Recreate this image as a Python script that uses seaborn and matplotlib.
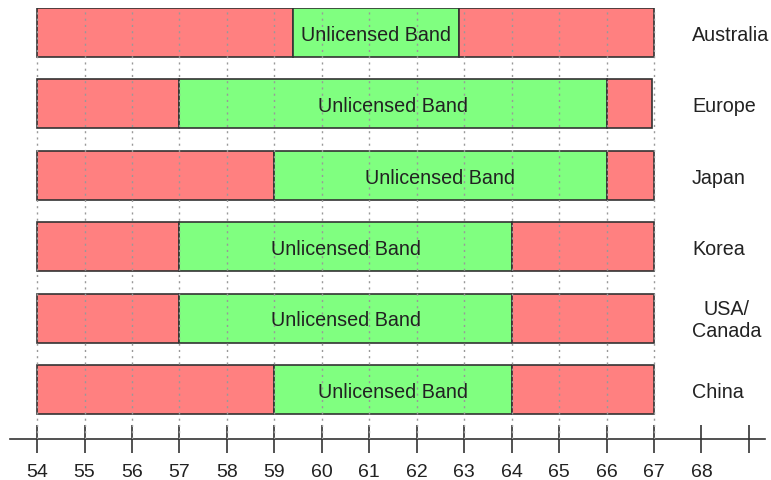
import matplotlib
matplotlib.use("Agg")
import matplotlib.pyplot as plt
import seaborn as sns

countries = ["Australia", "Europe", "Japan", "Korea", "USA/\nCanada", "China"]
range_start = [54, 54, 54, 54, 54, 54]
band_start = [59.4, 57, 59, 57, 57, 59]
band_end = [62.9, 66, 66, 64, 64, 64]
range_end = [67, 66.95, 67, 67, 67, 67]
band_label = "Unlicensed Band"
tick_values = list(range(54, 70))
tick_labels = [str(v) for v in range(54, 69)] + [""]
grid_values = list(range(54, 68))

sns.set_theme(style="white")
plt.rcParams["font.family"] = ["Liberation Sans", "DejaVu Sans"]

RED = "#FF8080"
GREEN = "#80FF80"
EDGE = "#333333"

fig = plt.figure(figsize=(7.71, 4.81), dpi=100)
ax = fig.add_axes([10 / 771, 41 / 481, 755 / 771, 431 / 481])

n = len(countries)
ys = [n - 1 - i for i in range(n)]
h = 0.686

for y, c, rs, bs, be, re_ in zip(ys, countries, range_start, band_start, band_end, range_end):
    ax.barh(y, bs - rs, left=rs, height=h, color=RED, edgecolor=EDGE, linewidth=1.2, zorder=1)
    ax.barh(y, be - bs, left=bs, height=h, color=GREEN, edgecolor=EDGE, linewidth=1.2, zorder=1)
    ax.barh(y, re_ - be, left=be, height=h, color=RED, edgecolor=EDGE, linewidth=1.2, zorder=1)
    ax.text((bs + be) / 2, y - 0.025, band_label, ha="center", va="center", fontsize=14.2, color="#222222", zorder=4)
    ax.text(67.8, y - 0.025, c, ha="left", va="center", multialignment="center", fontsize=14.2, color="#222222", zorder=4)

ax.vlines(grid_values, -0.693, n - 1 + h / 2, colors="#999999", linestyles=(0, (1.5, 3)), linewidth=1.0, zorder=3)

ax.set_xlim(53.43, 69.34)
ax.set_ylim(-0.693, n - 1 + h / 2)
ax.set_yticks([])
ax.set_xticks(tick_values)
ax.set_xticklabels(tick_labels)
ax.tick_params(axis="x", direction="inout", length=20, width=1.2, color=EDGE, labelsize=14, labelcolor="#222222", pad=7, bottom=True)
for s in ["top", "left", "right"]:
    ax.spines[s].set_visible(False)
ax.spines["bottom"].set_color(EDGE)
ax.spines["bottom"].set_linewidth(1.2)
ax.set_facecolor("white")
ax.grid(False)

fig.savefig("out.png", dpi=100, facecolor="white")
